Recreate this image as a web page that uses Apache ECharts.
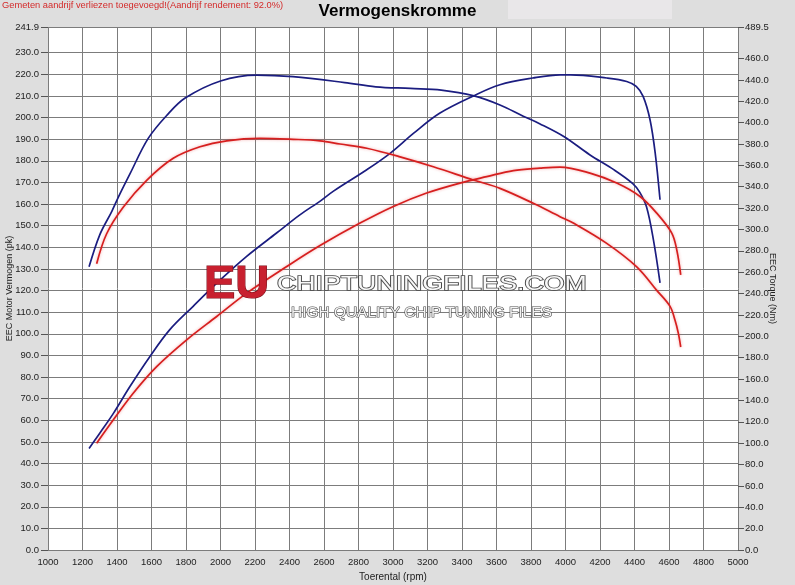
<!DOCTYPE html>
<html>
<head>
<meta charset="utf-8">
<script src="https://cdn.jsdelivr.net/npm/echarts@6/dist/echarts.min.js"></script>
<style>
html,body{margin:0;padding:0;background:#dedede;}
#c{width:795px;height:585px;}
</style>
</head>
<body>
<div id="c"></div>
<script>
// ---- data ----
const tunedTorqueRpm = [1238,1300,1370,1410,1475,1580,1690,1795,2000,2210,2420,2720,2900,3100,3280,3470,3620,3755,3850,3990,4140,4280,4390,4430,4470,4510,4548];
const tunedTorqueNm  = [265,295,317,331,352,385,407,423,439,444.5,443,437.5,433.5,432,430.5,425,416.5,406,399,387,370,356,343,335,321,290,250];

const tunedPowerRpm = [1238,1300,1380,1475,1590,1705,1840,2000,2150,2325,2460,2580,2655,2850,2985,3120,3270,3465,3620,3810,3970,4030,4240,4355,4410,4450,4490,4520,4548];
const tunedPowerPk  = [47,54,63.3,75.6,89.4,101.8,112.6,125,135.7,146.6,155,161.5,166,176,183.6,192.8,202,210,215.2,218.3,219.8,219.8,218.3,216.7,214.4,209.8,199,183.6,162];

const stockTorqueRpm = [1282,1340,1437,1572,1726,1881,2036,2229,2422,2577,2693,2848,3041,3234,3466,3620,3813,3968,4045,4239,4413,4529,4606,4635,4654,4668];
const stockTorqueNm  = [268,296,321,346,366.6,377.4,383,385.3,384.4,383,380,376,368,358.7,346.3,338.5,324.5,312,306,287,265,243,228,215,203,190];

const stockPowerRpm = [1282,1379,1494,1630,1804,1978,2152,2384,2577,2809,3002,3195,3388,3543,3698,3852,3968,4142,4297,4432,4529,4616,4645,4668];
const stockPowerPk  = [49.4,60.2,72.5,84.8,97.2,108,118.8,131.1,140.8,151.2,158.9,165.1,169.7,172.7,175.5,176.6,177.1,174.3,169.7,163.5,155.8,146.6,138.8,127.3];

const powerTicks  = [0,10,20,30,40,50,60,70,80,90,100,110,120,130,140,150,160,170,180,190,200,210,220,230,241.9];
const torqueTicks = [0,20,40,60,80,100,120,140,160,180,200,220,240,260,280,300,320,340,360,380,400,420,440,460,489.5];

function pairs(xs, ys){ return xs.map((x,i)=>[x, ys[i]]); }

const chart = echarts.init(document.getElementById('c'));
const FONT = 'Liberation Sans';
const BLUE = '#1b1d80';
const RED = '#d61f1f';

function lineSeries(name, data, color, yIdx){
  return {
    name, type:'line', yAxisIndex:yIdx, data, smooth:0.35, showSymbol:false,
    lineStyle:{color, width:1.7, shadowColor: color===RED ? 'rgba(230,60,60,0.45)' : 'rgba(0,0,0,0)', shadowBlur: color===RED ? 3 : 0},
    itemStyle:{color}, z:3, silent:true, animation:false
  };
}

chart.setOption({
  backgroundColor:'#dedede',
  animation:false,
  title:{
    text:'Vermogenskromme', left:'center', top:-2,
    textStyle:{fontFamily:FONT, fontSize:17, fontWeight:'bold', color:'#000'}
  },
  grid:{left:48, right:57, top:27, bottom:35, show:true, backgroundColor:'#ffffff', borderWidth:0, containLabel:false, outerBoundsMode:'none'},
  xAxis:{
    type:'value', min:1000, max:5000, interval:200,
    axisLine:{show:false}, axisTick:{show:false},
    splitLine:{show:true, lineStyle:{color:'#7c7c7c', width:1}},
    axisLabel:{color:'#222', fontSize:9.5, fontFamily:FONT, margin:7, formatter:v=>String(v)},
    name:'Toerental (rpm)', nameLocation:'middle', nameGap:22, nameMoveOverlap:false,
    nameTextStyle:{color:'#222', fontSize:10, fontFamily:FONT}
  },
  yAxis:[{
    type:'value', position:'left', min:0, max:241.9,
    axisLine:{show:false},
    axisTick:{show:true, customValues:powerTicks, length:7, lineStyle:{color:'#555'}},
    axisLabel:{customValues:powerTicks, color:'#222', fontSize:9.5, fontFamily:FONT, margin:9,
      formatter:v=>Number(v).toFixed(1)},
    splitLine:{show:true, lineStyle:{color:'#7c7c7c', width:1}},
    name:'EEC Motor Vermogen (pk)', nameLocation:'middle', nameGap:34, nameMoveOverlap:false,
    nameTextStyle:{color:'#222', fontSize:9, fontFamily:FONT}
  },{
    type:'value', position:'right', min:0, max:489.5,
    axisLine:{show:false},
    axisTick:{show:true, customValues:torqueTicks, length:6, lineStyle:{color:'#555'}},
    axisLabel:{customValues:torqueTicks, color:'#222', fontSize:9.5, fontFamily:FONT, margin:7,
      formatter:v=>Number(v).toFixed(1)},
    splitLine:{show:false},
    name:'EEC Torque (Nm)', nameLocation:'middle', nameGap:30, nameRotate:-90, nameMoveOverlap:false,
    nameTextStyle:{color:'#222', fontSize:9, fontFamily:FONT}
  }],
  graphic:[
    {type:'rect', left:508, top:0, shape:{width:164, height:19}, style:{fill:'#e9e7e9'}, z:-10, silent:true},
    {type:'text', left:2, top:1, style:{text:'Gemeten aandrijf verliezen toegevoegd!(Aandrijf rendement: 92.0%)', fill:'#d42a2a', font:'9.3px "Liberation Sans"'}, silent:true},
    {type:'text', x:204, y:262, style:{text:'EU', fill:'#c8202f', stroke:'#7a0d18', lineWidth:1.2, font:'bold 47px "Liberation Sans"', verticalAlign:'top', shadowBlur:4, shadowColor:'rgba(0,0,0,0.5)'}, z:10, silent:true},
    {type:'text', x:277, y:274, scaleX:1.27, style:{text:'CHIPTUNINGFILES.COM', fill:'#f8f8f8', stroke:'#4a4a4a', lineWidth:1.6, font:'21px "Liberation Sans"', verticalAlign:'top', shadowBlur:4, shadowColor:'rgba(0,0,0,0.6)'}, z:10, silent:true},
    {type:'text', x:291, y:305, scaleX:1.03, style:{text:'HIGH QUALITY CHIP TUNING FILES', fill:'#f4f4f4', stroke:'#4a4a4a', lineWidth:1.2, font:'15px "Liberation Sans"', verticalAlign:'top', shadowBlur:4, shadowColor:'rgba(0,0,0,0.6)'}, z:10, silent:true}
  ],
  series:[
    lineSeries('Torque tuned', pairs(tunedTorqueRpm, tunedTorqueNm), BLUE, 1),
    lineSeries('Power tuned', pairs(tunedPowerRpm, tunedPowerPk), BLUE, 0),
    lineSeries('Torque stock', pairs(stockTorqueRpm, stockTorqueNm), RED, 1),
    lineSeries('Power stock', pairs(stockPowerRpm, stockPowerPk), RED, 0)
  ]
});
</script>
</body>
</html>
